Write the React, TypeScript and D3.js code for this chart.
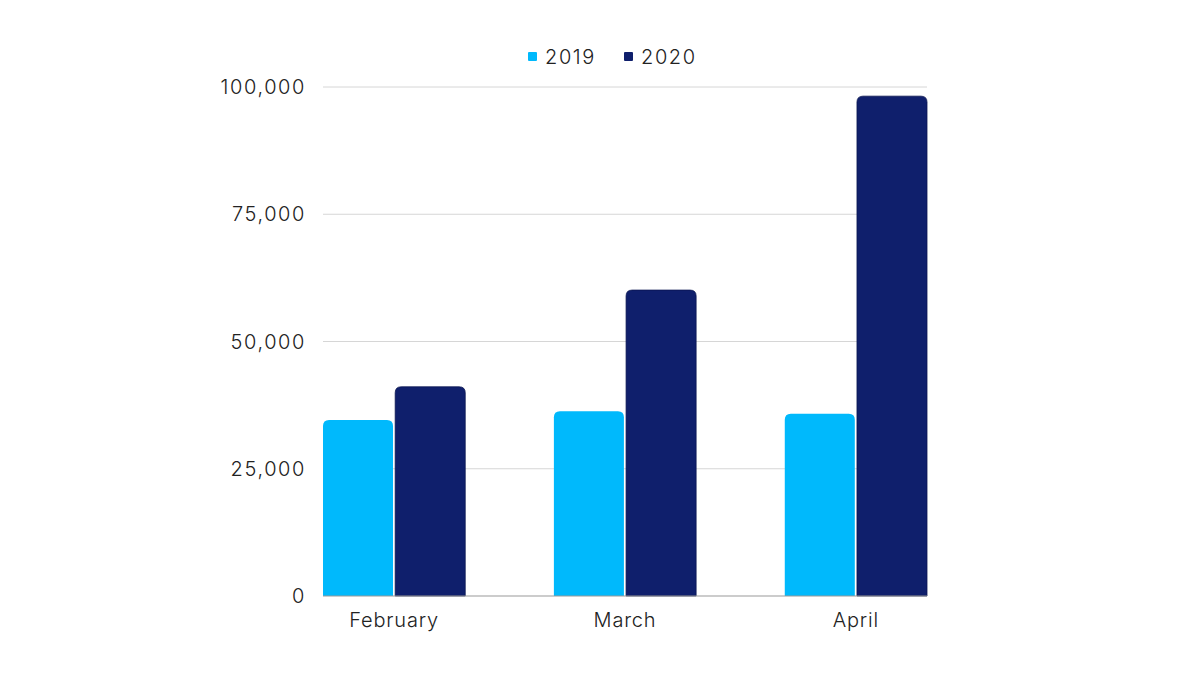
import React from "react";
import * as d3 from "d3";

const categories = ["February", "March", "April"];
const seriesNames = ["2019", "2020"];
const values2019 = [34600, 36300, 35800];
const values2020 = [41100, 60100, 98200];
const yTicks = [0, 25000, 50000, 75000, 100000];
const colors = ["#00B9FC", "#0F1F6C"];

const W = 1200;
const H = 674;

function topRounded(x: number, y: number, w: number, h: number, r: number) {
  const rr = Math.min(r, w / 2, h);
  return `M${x},${y + h}V${y + rr}Q${x},${y} ${x + rr},${y}H${x + w - rr}Q${x + w},${y} ${x + w},${y + rr}V${y + h}Z`;
}

export default function App() {
  const x0 = d3.scaleBand<string>().domain(categories).range([323, 927]).paddingInner(0.384).paddingOuter(0);
  const x1 = d3.scaleBand<string>().domain(seriesNames).range([0, x0.bandwidth()]).paddingInner(0.03);
  const y = d3.scaleLinear().domain([0, 100000]).range([596, 87]);
  const fmt = d3.format(",");
  const series = [values2019, values2020];
  const font = "Inter, 'Open Sans', sans-serif";

  return (
    <svg width={W} height={H} style={{ position: "absolute", left: 0, top: 0, background: "#fff" }}>
      <rect x={0} y={0} width={W} height={H} fill="#fff" />
      {yTicks.map((t) => (
        <g key={t}>
          {t > 0 && <line x1={323} x2={927} y1={y(t)} y2={y(t)} stroke="#d6d6d6" strokeWidth={1} />}
          <text x={306} y={y(t)} dy="0.35em" textAnchor="end" fontFamily={font} fontSize={20} fontWeight={300} letterSpacing={1.6} fill="#222">
            {fmt(t)}
          </text>
        </g>
      ))}
      {categories.map((c, i) => (
        <g key={c}>
          {seriesNames.map((s, j) => {
            const v = series[j][i];
            const bx = (x0(c) as number) + (x1(s) as number);
            const by = y(v);
            return (
              <path
                key={s}
                d={topRounded(bx, by, x1.bandwidth(), y(0) - by, 6)}
                fill={colors[j]}
                stroke={j === 1 ? "#0a1550" : "none"}
                strokeWidth={j === 1 ? 0.8 : 0}
              />
            );
          })}
          <text
            x={(x0(c) as number) + x0.bandwidth() / 2}
            y={627}
            textAnchor="middle"
            fontFamily={font}
            fontSize={20}
            fontWeight={300}
            letterSpacing={0.8}
            fill="#222"
          >
            {c}
          </text>
        </g>
      ))}
      <line x1={323} x2={927} y1={596} y2={596} stroke="#9a9a9a" strokeWidth={1.2} />
      {seriesNames.map((s, j) => {
        const lx = 528 + j * 96;
        return (
          <g key={s}>
            <rect x={lx} y={52} width={9} height={9} rx={1} fill={colors[j]} />
            <text x={lx + 17} y={57} dy="0.35em" fontFamily={font} fontSize={20} fontWeight={300} letterSpacing={1.6} fill="#222">
              {s}
            </text>
          </g>
        );
      })}
    </svg>
  );
}
